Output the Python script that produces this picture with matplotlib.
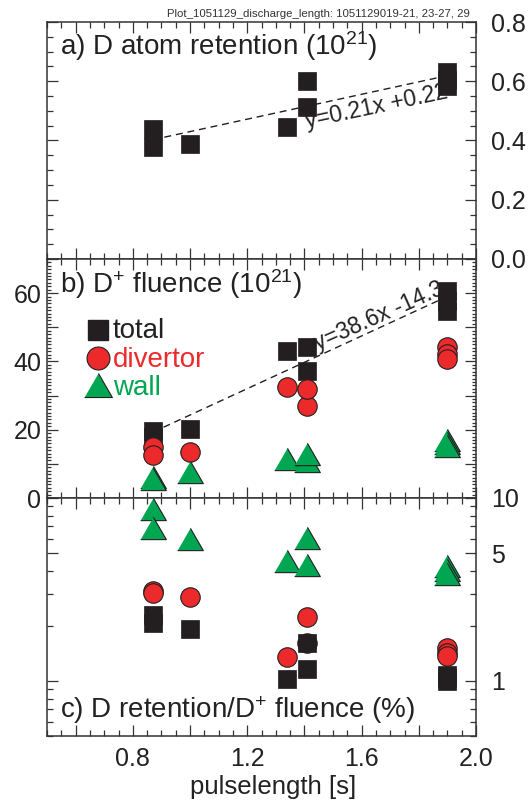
import matplotlib
matplotlib.use("Agg")
import matplotlib.pyplot as plt
from matplotlib.ticker import MultipleLocator, FixedLocator, FuncFormatter, NullFormatter, FixedFormatter
import numpy as np

plt.rcParams['font.family'] = ['Liberation Sans', 'DejaVu Sans']
plt.rcParams['mathtext.default'] = 'regular'

# ---------------- data ----------------
pulse = [0.87, 0.87, 1.00, 1.34, 1.41, 1.41, 1.90, 1.90, 1.90]
retention = [0.438, 0.378, 0.388, 0.445, 0.600, 0.513, 0.630, 0.605, 0.583]
fluence_total = [19.5, 18.0, 20.3, 43.2, 37.2, 44.1, 54.8, 57.7, 60.7]
fluence_divertor = [14.8, 12.6, 13.6, 32.6, 27.0, 31.9, 44.1, 42.2, 40.8]
fluence_wall = [6.1, 5.6, 7.5, 11.3, 10.8, 13.0, 17.0, 16.0, 15.2]
ratio_total = [2.30, 2.07, 1.92, 1.03, 1.61, 1.16, 1.08, 1.04, 1.00]
ratio_divertor = [3.10, 3.01, 2.89, 1.36, 1.61, 2.24, 1.52, 1.43, 1.37]
ratio_wall = [8.71, 6.83, 5.99, 4.52, 4.30, 6.06, 4.24, 4.05, 3.84]

fit_a = (0.21, 0.22)
fit_b = (38.6, -14.3)
fit_range = [0.87, 1.90]

xticks_major = [0.6, 0.8, 1.0, 1.2, 1.4, 1.6, 1.8, 2.0]
xtick_labels = {0.8: '0.8', 1.2: '1.2', 1.6: '1.6', 2.0: '2.0'}

C_BLACK = '#231f20'
C_RED = '#ec2a2c'
C_GREEN = '#00a651'
EDGE = '#231f20'
TXT = '#222222'

tri = [(-1, -0.866), (1, -0.866), (0, 0.866)]

fig = plt.figure(figsize=(5.32, 8.01), dpi=100)
L, W = 47 / 532, 429 / 532
ax_a = fig.add_axes([L, (801 - 259) / 801, W, 237 / 801])
ax_b = fig.add_axes([L, (801 - 498) / 801, W, 239 / 801])
ax_c = fig.add_axes([L, (801 - 736) / 801, W, 238 / 801])

TS = 18  # tick label size
TITLE = 20

def style(ax):
    ax.set_xlim(0.5, 2.0)
    ax.xaxis.set_major_locator(FixedLocator(xticks_major))
    ax.xaxis.set_minor_locator(MultipleLocator(0.05))
    ax.xaxis.set_major_formatter(FuncFormatter(lambda v, p: xtick_labels.get(round(v, 2), '')))
    ax.tick_params(which='both', direction='in', top=True, bottom=True, left=True, right=True,
                   colors='#333333', labelcolor=TXT, labelsize=TS, width=0.9)
    ax.tick_params(which='major', length=8)
    ax.tick_params(which='minor', length=4)
    for s in ax.spines.values():
        s.set_color('#333333')
        s.set_linewidth(1.1)

for ax in (ax_a, ax_b, ax_c):
    style(ax)

# ---------------- panel a ----------------
ax_a.set_ylim(0, 0.8)
ax_a.yaxis.set_major_locator(MultipleLocator(0.2))
ax_a.yaxis.set_minor_locator(MultipleLocator(0.05))
ax_a.yaxis.set_major_formatter(FuncFormatter(lambda v, p: f'{v:.1f}'))
ax_a.tick_params(axis='y', labelleft=False, labelright=True, pad=11)
ax_a.tick_params(axis='x', labelbottom=False)
xf = np.array(fit_range)
ax_a.plot(xf, fit_a[0] * xf + fit_a[1], ls=(0, (5, 3.5)), color=C_BLACK, lw=1.0, zorder=2)
ax_a.plot(pulse, retention, 's', ms=13, color=C_BLACK, mec=C_BLACK, mew=0.5, ls='none', zorder=3)
ax_a.text(1.409, 0.442, 'y=0.21x +0.22', fontsize=16.5, rotation=12, rotation_mode='anchor',
          ha='left', va='baseline', color=TXT, zorder=2)
ax_a.text(0.03, 0.861, 'a) D atom retention (10$^{21}$)', transform=ax_a.transAxes,
          fontsize=TITLE, ha='left', va='baseline', color=TXT)

# ---------------- panel b ----------------
ax_b.set_ylim(0, 70)
ax_b.yaxis.set_major_locator(MultipleLocator(10))
ax_b.yaxis.set_minor_locator(MultipleLocator(1))
ax_b.yaxis.set_major_formatter(FuncFormatter(lambda v, p: f'{int(round(v))}' if int(round(v)) % 20 == 0 else ''))
ax_b.tick_params(axis='y', which='minor', length=3)
ax_b.tick_params(axis='y', labelleft=True, labelright=False, pad=4)
ax_b.tick_params(axis='x', labelbottom=False)
ax_b.plot(xf, fit_b[0] * xf + fit_b[1], ls=(0, (5, 3.5)), color=C_BLACK, lw=1.0, zorder=2)
ax_b.text(1.448, 43.3, 'y=38.6x -14.3', fontsize=16.5, rotation=24, rotation_mode='anchor',
          ha='left', va='baseline', color=TXT, zorder=2)
ax_b.plot(pulse, fluence_total, 's', ms=13, color=C_BLACK, mec=C_BLACK, mew=0.5, ls='none', zorder=3)
ax_b.plot(pulse, fluence_divertor, 'o', ms=14, color=C_RED, mec=EDGE, mew=0.8, ls='none', zorder=4)
ax_b.plot(pulse, fluence_wall, marker=tri, ms=18.5, color=C_GREEN, mec=EDGE, mew=0.8, ls='none', zorder=5)
ax_b.text(0.03, 0.858, 'b) D$^{+}$ fluence (10$^{21}$)', transform=ax_b.transAxes,
          fontsize=TITLE, ha='left', va='baseline', color=TXT)
# legend
ax_b.plot([0.119], [0.703], 's', ms=14.5, color=C_BLACK, transform=ax_b.transAxes, clip_on=False)
ax_b.plot([0.119], [0.586], 'o', ms=16.5, color=C_RED, mec=EDGE, mew=0.8, transform=ax_b.transAxes, clip_on=False)
ax_b.plot([0.119], [0.473], marker=tri, ms=20, color=C_GREEN, mec=EDGE, mew=0.8, transform=ax_b.transAxes, clip_on=False)
ax_b.text(0.154, 0.669, 'total', transform=ax_b.transAxes, fontsize=20, color=TXT, va='baseline')
ax_b.text(0.154, 0.548, 'divertor', transform=ax_b.transAxes, fontsize=20, color=C_RED, va='baseline')
ax_b.text(0.154, 0.431, 'wall', transform=ax_b.transAxes, fontsize=20, color=C_GREEN, va='baseline')

# ---------------- panel c ----------------
ax_c.set_yscale('log')
ax_c.set_ylim(0.5, 10)
ax_c.yaxis.set_major_locator(FixedLocator([1, 5, 10]))
ax_c.yaxis.set_major_formatter(FixedFormatter(['1', '5', '10']))
ax_c.yaxis.set_minor_locator(FixedLocator([0.5, 0.6, 0.7, 0.8, 0.9, 2, 3, 4, 6, 7, 8, 9]))
ax_c.yaxis.set_minor_formatter(NullFormatter())
ax_c.tick_params(axis='y', labelleft=False, labelright=True, pad=11)
ax_c.tick_params(axis='x', labelbottom=True, pad=8)
ax_c.plot(pulse, ratio_wall, marker=tri, ms=18.5, color=C_GREEN, mec=EDGE, mew=0.8, ls='none', zorder=3)
ax_c.plot(pulse, ratio_divertor, 'o', ms=14, color=C_RED, mec=EDGE, mew=0.8, ls='none', zorder=4)
ax_c.plot(pulse, ratio_total, 's', ms=13, color=C_BLACK, mec=C_BLACK, mew=0.5, ls='none', zorder=5)
ax_c.text(0.03, 0.076, 'c) D retention/D$^{+}$ fluence (%)', transform=ax_c.transAxes,
          fontsize=TITLE, ha='left', va='baseline', color=TXT)
ax_c.set_xlabel('pulselength [s]', fontsize=18.5, color=TXT)
ax_c.xaxis.set_label_coords((273 - 47) / 429, -0.165)

fig.text(470 / 532, 1 - 17 / 801, 'Plot_1051129_discharge_length: 1051129019-21, 23-27, 29',
         fontsize=8.2, ha='right', va='baseline', color='#333333')

fig.savefig('out.png', dpi=100)
